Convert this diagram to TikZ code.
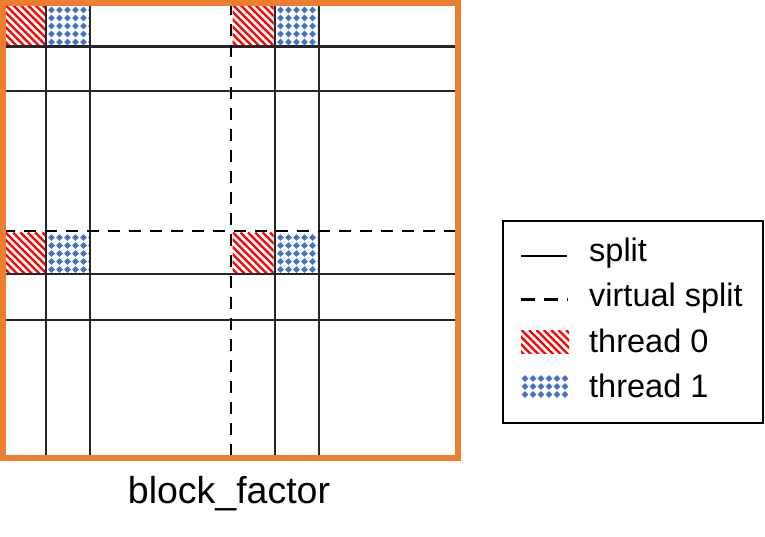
\documentclass[tikz,border=0pt]{standalone}
\usepackage{fontspec}
\setmainfont{Liberation Sans}
\definecolor{borderorange}{HTML}{ED7D31}
\definecolor{gridgray}{HTML}{262626}
\definecolor{patblue}{HTML}{4472C4}
\definecolor{patred}{HTML}{FF0000}
\tikzset{
  splitline/.style={draw=gridgray, line width=2.9pt},
  vsplitline/.style={draw=black, line width=2.9pt, dash pattern=on 12pt off 9pt},
  frame/.style={draw=borderorange, line width=6pt},
  legendbox/.style={draw=black, line width=2.8pt},
  legendtext/.style={anchor=base west, inner sep=0pt, font=\fontsize{32.5}{36}\selectfont},
  stripe/.style={draw=patred, line width=2.3pt},
  dotdiamond/.style={fill=patblue, draw=none},
}
\newcommand{\redcell}[4]{%
  \begin{scope}
    \clip (#1,#2) rectangle (#3,#4);
    \foreach \k in {-66,-58.6,...,66} {
      \draw[stripe] ({#1+\k},{#2}) -- ++(70,70);
    }
  \end{scope}}
\newcommand{\bluecell}[4]{%
  \begin{scope}
    \clip (#1,#2) rectangle (#3,#4);
    \foreach \i in {0,...,6} {
      \foreach \j in {0,...,6} {
        \fill[dotdiamond] ({#1+4+8*\i},{#2+5+8*\j}) ++(-3.4,0) -- ++(3.4,-3.4) -- ++(3.4,3.4) -- ++(-3.4,3.4) -- cycle;
      }
    }
  \end{scope}}
\begin{document}
\begin{tikzpicture}[x=1pt,y=-1pt]
\useasboundingbox (0,0) rectangle (765,536);
% patterns
\redcell{5}{5}{45}{45.5}
\bluecell{47.5}{5}{89}{45.5}
\redcell{232.5}{5}{273.5}{45.5}
\bluecell{276.5}{5}{317.5}{45.5}
\redcell{5}{232.5}{45}{273}
\bluecell{47.5}{232.5}{89}{273}
\redcell{232.5}{232.5}{273.5}{273}
\bluecell{276.5}{232.5}{317.5}{273}
% grid coordinates
\coordinate (t46) at (46,3);   \coordinate (b46) at (46,458);
\coordinate (t90) at (90,3);   \coordinate (b90) at (90,458);
\coordinate (t231) at (231,3); \coordinate (b231) at (231,458);
\coordinate (t275) at (275,3); \coordinate (b275) at (275,458);
\coordinate (t319) at (319,3); \coordinate (b319) at (319,458);
\coordinate (l46) at (3,46.5);  \coordinate (r46) at (458,46.5);
\coordinate (l91) at (3,91);    \coordinate (r91) at (458,91);
\coordinate (l231) at (3,231);  \coordinate (r231) at (458,231);
\coordinate (l274) at (3,274);  \coordinate (r274) at (458,274);
\coordinate (l320) at (3,320);  \coordinate (r320) at (458,320);
\draw[splitline] (t46) -- (b46);
\draw[splitline] (t90) -- (b90);
\draw[splitline] (t275) -- (b275);
\draw[splitline] (t319) -- (b319);
\draw[splitline] (l46) -- (r46);
\draw[splitline] (l91) -- (r91);
\draw[splitline] (l274) -- (r274);
\draw[splitline] (l320) -- (r320);
\draw[vsplitline] (t231) -- (b231);
\draw[vsplitline] (l231) -- (r231);
% frame
\draw[frame] (3,3) rectangle (458,458);
\node[anchor=base, inner sep=0pt, font=\fontsize{37.5}{40}\selectfont] (bf) at (229,503) {block\_factor};
% legend
\draw[legendbox] (503,221) rectangle (763,423);
\coordinate (s1a) at (521,256); \coordinate (s1b) at (567,256);
\coordinate (s2a) at (521,299.5); \coordinate (s2b) at (568,299.5);
\draw[draw=black, line width=2.9pt] (s1a) -- (s1b);
\draw[draw=black, line width=2.9pt, dash pattern=on 14pt off 9pt] (s2a) -- (s2b);
\redcell{521}{330}{569}{353}
\bluecell{521}{373.5}{569}{397}
\node[legendtext] (lsplit) at (589,261) {split};
\node[legendtext] (lvsplit) at (589,306.5) {virtual split};
\node[legendtext] (lt0) at (589,352.5) {thread 0};
\node[legendtext] (lt1) at (589,397.5) {thread 1};
\end{tikzpicture}
\end{document}
